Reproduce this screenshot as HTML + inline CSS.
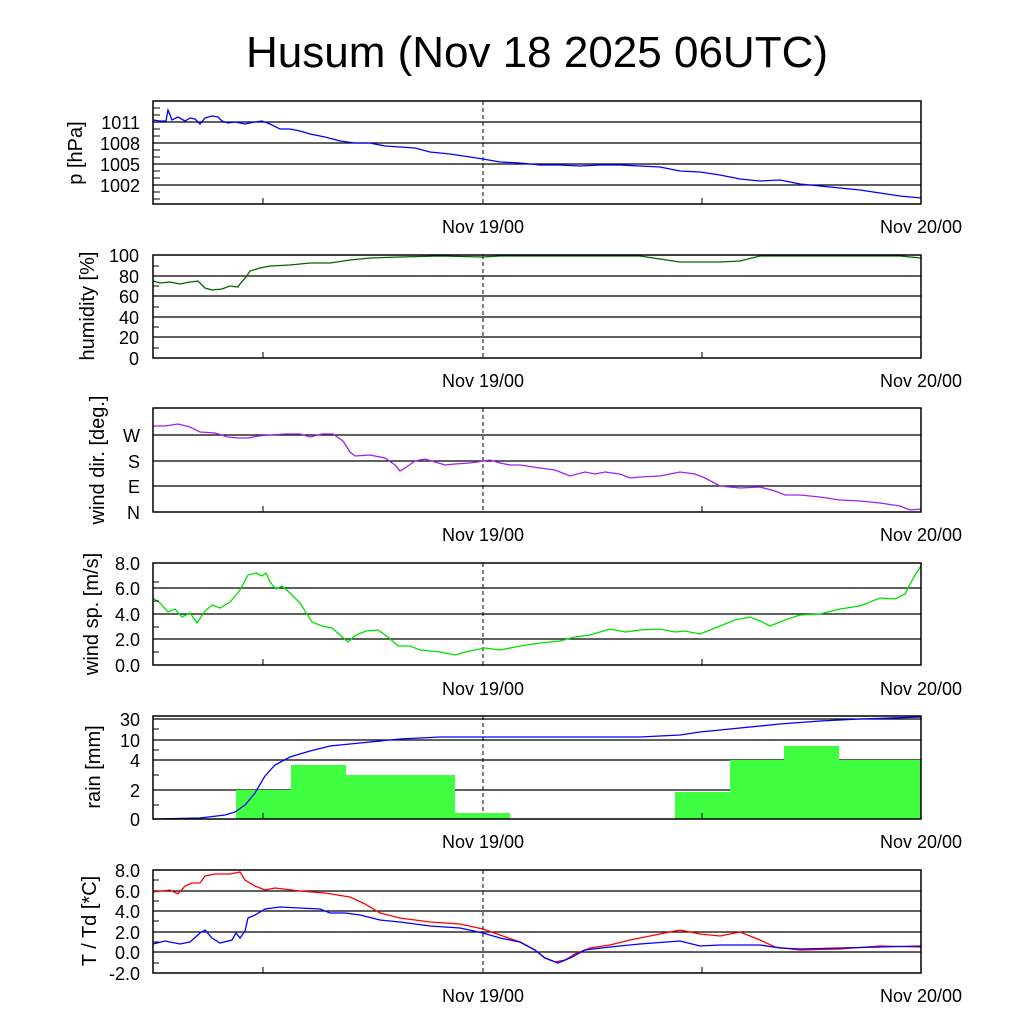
<!DOCTYPE html>
<html><head><meta charset="utf-8"><style>body{margin:0;background:#fff}svg{display:block}text{font-family:"Liberation Sans",sans-serif}</style></head><body>
<svg width="1024" height="1024" viewBox="0 0 1024 1024" xmlns="http://www.w3.org/2000/svg">
<rect width="1024" height="1024" fill="#fff"/>
<text x="537" y="67" font-size="44" text-anchor="middle">Husum (Nov 18 2025 06UTC)</text>
<g stroke="#000" stroke-width="1.2" fill="none">
<path d="M153 122H921M153 143H921M153 164H921M153 185H921"/>
<path d="M153 276H921M153 296H921M153 317H921M153 337H921"/>
<path d="M153 435H921M153 461H921M153 486H921"/>
<path d="M153 588H921M153 614H921M153 639H921"/>
<path d="M153 719H921M153 740H921M153 760H921M153 790H921"/>
<path d="M153 891H921M153 911H921M153 932H921M153 952H921"/>
</g>
<g stroke="#000" stroke-width="1" stroke-dasharray="4,3">
<path d="M483 101V204M483 255V358M483 408V512M483 563V665M483 716V819M483 870V973"/>
</g>
<g fill="#40ff40">
<rect x="236" y="790" width="55" height="29"/><rect x="291" y="765" width="55" height="54"/><rect x="346" y="775" width="109" height="44"/><rect x="455" y="813" width="55" height="6"/>
<rect x="675" y="792" width="55" height="27"/><rect x="730" y="760" width="54" height="59"/><rect x="784" y="746" width="55" height="73"/><rect x="839" y="760" width="82" height="59"/>
</g>
<g fill="none" stroke-width="1.3">
<polyline stroke="#0000ff" points="153,120 160,121 166,121 168,110 172,120 178,117 185,121 190,118 195,119 200,124 205,118 212,116 218,117 222,121 228,123 235,122 245,124 255,122 262,121 270,124 280,129 290,129 300,131 310,134 325,137 340,141 355,143 370,143 385,146 400,147 415,148 430,152 450,154 470,157 483,159 500,162 520,163 540,165 560,165 580,166 600,165 620,165 640,166 660,167 680,171 700,172 720,175 740,179 760,181 780,180 800,184 820,186 840,188 860,190 880,193 900,196 921,198"/>
<polyline stroke="#006400" points="153,281 160,283 170,282 180,284 190,282 198,281 205,288 212,290 222,289 230,286 238,287 240,284 246,277 250,271 260,268 270,266 290,265 310,263 330,263 350,260 370,258 400,257 440,256 483,257 500,256 640,256 660,259 680,262 720,262 740,261 760,256 800,256 900,256 921,258"/>
<polyline stroke="#a020f0" points="153,426 165,426 178,424 190,427 200,432 215,433 228,437 238,438 248,438 258,436 270,435 285,434 300,434 310,437 322,434 333,434 343,441 350,452 355,456 370,455 385,458 395,465 400,471 405,468 415,461 425,459 435,462 445,465 455,464 470,463 490,460 500,463 510,465 520,465 540,468 555,470 570,476 585,472 595,474 605,472 620,474 630,478 640,477 660,476 680,472 695,474 705,478 720,486 740,488 760,487 775,491 785,495 800,495 820,497 840,500 860,501 880,503 900,506 910,510 921,509"/>
<polyline stroke="#00e000" points="153,598 160,603 168,612 175,609 182,617 190,613 197,623 205,611 212,605 220,608 230,602 240,590 248,575 256,573 262,576 266,573 270,582 276,589 282,586 290,593 300,603 312,622 322,626 332,628 340,635 348,642 356,635 366,631 378,630 388,637 398,646 410,646 420,650 440,652 455,655 465,652 475,650 485,648 500,650 520,646 540,643 560,641 575,637 590,635 610,629 625,632 640,630 660,629 675,632 685,631 700,634 715,628 735,620 750,617 760,621 770,626 785,620 800,615 820,614 840,609 860,606 880,598 895,599 905,594 915,575 921,566"/>
<polyline stroke="#0000ff" points="153,819 200,818 225,815 235,812 245,805 255,793 265,776 275,765 290,757 310,751 330,746 360,743 400,739 440,737 640,737 680,735 700,732 740,728 780,724 820,721 860,719 921,717"/>
<polyline stroke="#ff0000" points="153,892 170,890 178,894 185,886 192,883 200,883 205,876 215,874 230,874 240,872 245,880 255,886 265,890 275,888 300,891 325,893 350,897 365,904 380,913 400,918 430,922 460,924 483,929 500,935 520,942 535,950 545,958 555,962 565,960 575,954 590,948 610,945 630,940 660,934 680,930 700,934 720,936 740,932 760,940 775,947 800,950 840,949 880,946 921,947"/>
<polyline stroke="#0000ff" points="153,944 165,941 180,944 190,942 200,933 205,930 212,938 220,943 232,940 236,933 240,938 245,931 248,918 255,915 265,909 280,907 300,908 320,909 330,913 345,913 360,915 380,920 400,922 430,926 460,928 483,933 500,938 520,942 535,950 545,958 558,963 570,958 585,950 610,947 640,944 680,941 700,946 720,945 760,945 780,948 800,949 840,948 880,947 921,946"/>
</g>
<g stroke="#000" stroke-width="1.5" fill="none">
<rect x="153" y="101" width="768" height="103"/>
<rect x="153" y="255" width="768" height="103"/>
<rect x="153" y="408" width="768" height="104"/>
<rect x="153" y="563" width="768" height="102"/>
<rect x="153" y="716" width="768" height="103"/>
<rect x="153" y="870" width="768" height="103"/>
</g>
<g stroke="#000" stroke-width="1">
<path d="M263 204v-6M702 204v-6M263 358v-6M702 358v-6M263 512v-6M702 512v-6M263 665v-6M702 665v-6M263 819v-6M702 819v-6M263 973v-6M702 973v-6"/>
<path d="M153 108h7M153 115h7M153 129h7M153 136h7M153 150h7M153 157h7M153 171h7M153 178h7M153 192h7M153 199h7"/>
<path d="M153 266h6M153 286h6M153 307h6M153 327h6M153 348h6M153 582h6M153 601h6M153 627h6M153 652h6M153 729h6M153 750h6M153 775h6M153 805h6M153 880h6M153 901h6M153 921h6M153 942h6M153 963h6"/>
</g>
<g font-size="18" text-anchor="middle">
<text x="483" y="233">Nov 19/00</text><text x="921" y="233">Nov 20/00</text>
<text x="483" y="387">Nov 19/00</text><text x="921" y="387">Nov 20/00</text>
<text x="483" y="541">Nov 19/00</text><text x="921" y="541">Nov 20/00</text>
<text x="483" y="695">Nov 19/00</text><text x="921" y="695">Nov 20/00</text>
<text x="483" y="848">Nov 19/00</text><text x="921" y="848">Nov 20/00</text>
<text x="483" y="1002">Nov 19/00</text><text x="921" y="1002">Nov 20/00</text>
</g>
<g font-size="18" text-anchor="end">
<text x="140" y="129">1011</text><text x="140" y="150">1008</text><text x="140" y="171">1005</text><text x="140" y="192">1002</text>
<text x="139" y="262">100</text><text x="139" y="283">80</text><text x="139" y="303">60</text><text x="139" y="324">40</text><text x="139" y="344">20</text><text x="139" y="365">0</text>
<text x="140" y="442">W</text><text x="140" y="468">S</text><text x="140" y="493">E</text><text x="140" y="519">N</text>
<text x="140" y="570">8.0</text><text x="140" y="595">6.0</text><text x="140" y="621">4.0</text><text x="140" y="646">2.0</text><text x="140" y="672">0.0</text>
<text x="140" y="726">30</text><text x="140" y="747">10</text><text x="140" y="767">4</text><text x="140" y="797">2</text><text x="140" y="826">0</text>
<text x="140" y="877">8.0</text><text x="140" y="898">6.0</text><text x="140" y="918">4.0</text><text x="140" y="939">2.0</text><text x="140" y="959">0.0</text><text x="140" y="980">-2.0</text>
</g>
<g font-size="20" text-anchor="middle">
<text transform="translate(82,153) rotate(-90)">p [hPa]</text>
<text transform="translate(94,306) rotate(-90)">humidity [%]</text>
<text transform="translate(104,460) rotate(-90)">wind dir. [deg.]</text>
<text transform="translate(98,614) rotate(-90)">wind sp. [m/s]</text>
<text transform="translate(100,767) rotate(-90)">rain [mm]</text>
<text transform="translate(96,921) rotate(-90)">T / Td [*C]</text>
</g>
</svg>
</body></html>
